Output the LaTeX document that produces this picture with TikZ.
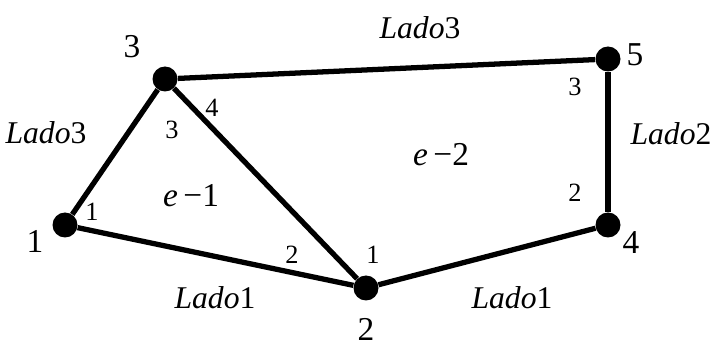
\documentclass[tikz,border=0pt]{standalone}
\usepackage{fontspec}
\setmainfont{Liberation Serif}
\usetikzlibrary{positioning}

\tikzset{
    vertex/.style={circle, fill=black, inner sep=0pt, minimum size=0.5cm},
    edge/.style={line width=3pt},
    vlabel/.style={font=\fontsize{19}{19}\selectfont},
    local/.style={font=\fontsize{15}{15}\selectfont},
    side/.style={font=\fontsize{18}{18}\selectfont\itshape},
}

\begin{document}
\begin{tikzpicture}

    \useasboundingbox (0,0) rectangle (14.42,6.98);

    % === Vertices ===
    \node[vertex] (n1) at (1.30,2.48) {};
    \node[vertex] (n2) at (7.32,1.22) {};
    \node[vertex] (n3) at (3.30,5.40) {};
    \node[vertex] (n4) at (12.16,2.48) {};
    \node[vertex] (n5) at (12.16,5.80) {};

    % === Edges ===
    \draw[edge] (n1) -- (n3);
    \draw[edge] (n1) -- (n2);
    \draw[edge] (n3) -- (n2);
    \draw[edge] (n3) -- (n5);
    \draw[edge] (n2) -- (n4);
    \draw[edge] (n4) -- (n5);

    % === Global numbers ===
    \node[vlabel] (g1) at (0.70,2.16) {1};
    \node[vlabel] (g2) at (7.32,0.40) {2};
    \node[vlabel] (g3) at (2.64,6.04) {3};
    \node[vlabel] (g4) at (12.62,2.12) {4};
    \node[vlabel] (g5) at (12.70,5.88) {5};

    % === Local numbers, element e-1 ===
    \node[local] (a1) at (1.84,2.74) {1};
    \node[local] (a2) at (5.84,1.88) {2};
    \node[local] (a3) at (3.44,4.38) {3};
    \node[local] (e1) at (3.82,3.06) {\fontsize{19}{19}\selectfont\textit{e}\,−1};

    % === Local numbers, element e-2 ===
    \node[local] (b1) at (7.46,1.88) {1};
    \node[local] (b2) at (11.50,3.12) {2};
    \node[local] (b3) at (11.50,5.24) {3};
    \node[local] (b4) at (4.24,4.82) {4};
    \node[local] (e2) at (8.82,3.88) {\fontsize{19}{19}\selectfont\textit{e}\,−2};

    % === Sides ===
    \node[side] (s13) at (0.92,4.32) {Lado\upshape3};
    \node[side] (s35) at (8.40,6.42) {Lado\upshape3};
    \node[side] (s45) at (13.42,4.30) {Lado\upshape2};
    \node[side] (s12) at (4.30,1.02) {Lado\upshape1};
    \node[side] (s24) at (10.24,1.02) {Lado\upshape1};

\end{tikzpicture}
\end{document}
